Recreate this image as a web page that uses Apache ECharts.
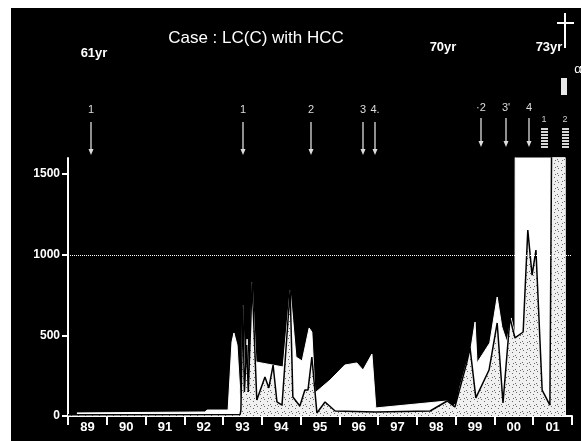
<!DOCTYPE html>
<html>
<head>
<meta charset="utf-8">
<script src="https://cdn.jsdelivr.net/npm/echarts@6/dist/echarts.min.js"></script>
<style>
  html, body { margin: 0; padding: 0; background: #fff; }
  #frame { position: absolute; left: 11px; top: 8px; width: 570px; height: 433px; background: #000; }
  #main { position: absolute; left: 0; top: 0; width: 581px; height: 441px; }
</style>
</head>
<body>
<div id="frame"></div>
<div id="main"></div>
<script>
// x axis categories (fiscal years)
const yearLabels = ['89', '90', '91', '92', '93', '94', '95', '96', '97', '98', '99', '00', '01'];
const yTicks = [0, 500, 1000, 1500];

// white filled series (values above 1600 run off the top of the chart)
const areaTimes = [1989.23, 1992.53, 1992.59, 1993.13, 1993.23, 1993.28, 1993.36, 1993.41, 1993.46, 1993.51,
  1993.57, 1993.62, 1993.67, 1993.75, 1993.85, 1994.55, 1994.73, 1994.88, 1995.04, 1995.22,
  1995.29, 1995.37, 1995.76, 1996.14, 1996.45, 1996.61, 1996.84, 1996.94, 1998.78, 1998.93,
  1999.03, 1999.11, 1999.29, 1999.37, 1999.50, 1999.55, 1999.88, 2000.07, 2000.19, 2000.32,
  2000.43, 2000.53, 2000.54, 2001.82, 2001.83];
const areaValues = [19, 25, 37, 37, 459, 515, 440, 428, 37, 688,
  161, 477, 149, 831, 335, 304, 781, 366, 341, 546,
  521, 143, 223, 316, 329, 285, 384, 50, 93, 62,
  81, 180, 335, 378, 583, 329, 453, 738, 552, 459,
  608, 502, 3000, 3000, 0];

// black line series with stippled fill
const lineTimes = [1989.0, 1993.44, 1993.46, 1993.51, 1993.55, 1993.61, 1993.65, 1993.75, 1993.87, 1994.08,
  1994.18, 1994.29, 1994.39, 1994.52, 1994.73, 1994.80, 1994.98, 1995.11, 1995.19, 1995.29,
  1995.42, 1995.63, 1995.89, 1996.94, 1998.34, 1998.78, 1998.98, 1999.29, 1999.37, 1999.52,
  1999.86, 2000.07, 2000.22, 2000.40, 2000.53, 2000.74, 2000.86, 2000.97, 2001.07, 2001.23,
  2001.43, 2001.51, 2001.82];
const lineValues = [8, 10, 37, 688, 149, 440, 149, 831, 99, 242,
  174, 316, 87, 68, 781, 118, 62, 161, 161, 366,
  19, 87, 31, 25, 31, 93, 56, 335, 422, 112,
  285, 577, 81, 608, 484, 521, 1153, 874, 1029, 161,
  68, 3000, 3000];

// treatment arrows and hatched markers along the top
const eventTimes = [1989.59, 1993.51, 1995.27, 1996.61, 1996.92, 1999.65, 2000.30, 2000.89];
const eventLabels = ['1', '1', '2', '3', '4.', '\u00b72', '3\'', '4'];
const hatchTimes = [2001.28, 2001.82];
const hatchLabels = ['1', '2'];

const FONT = '"Liberation Sans", Arial, sans-serif';

function makeStipple() {
  const c = document.createElement('canvas');
  c.width = 7; c.height = 7;
  const g = c.getContext('2d');
  g.fillStyle = '#f0f0f0';
  g.fillRect(0, 0, 7, 7);
  g.fillStyle = '#6a6a6a';
  g.fillRect(1, 2, 1, 1);
  g.fillRect(4, 5, 1, 1);
  g.fillRect(5, 0, 1, 1);
  g.fillRect(2, 6, 1, 1);
  return c;
}

const chart = echarts.init(document.getElementById('main'));

const option = {
  animation: false,
  grid: { left: 68, right: 9, top: 158, bottom: 25 },
  xAxis: [
    { type: 'value', min: 1989, max: 2002, show: false, position: 'bottom' },
    {
      type: 'category', data: yearLabels, position: 'bottom', boundaryGap: true,
      axisLine: { lineStyle: { color: '#fff', width: 2 } },
      axisTick: { show: true, length: 9, lineStyle: { color: '#fff', width: 2 } },
      axisLabel: { color: '#fff', fontWeight: 'bold', fontSize: 13, fontFamily: FONT, margin: 5 }
    }
  ],
  yAxis: {
    type: 'value', min: 0, max: 1600, interval: 500,
    axisLine: { show: true, lineStyle: { color: '#fff', width: 2 } },
    axisTick: { show: true, length: 6, lineStyle: { color: '#fff', width: 2 } },
    axisLabel: {
      color: '#fff', fontWeight: 'bold', fontSize: 12, fontFamily: FONT, margin: 8,
      showMaxLabel: false,
      formatter: v => (yTicks.indexOf(v) >= 0 ? String(v) : '')
    },
    splitLine: { show: false }
  },
  series: [
    {
      type: 'line', xAxisIndex: 0, z: 2,
      data: areaTimes.map((t, i) => [t, areaValues[i]]),
      symbol: 'none',
      lineStyle: { color: '#fff', width: 1 },
      areaStyle: { color: '#fff', opacity: 1 },
      markLine: {
        silent: true, symbol: 'none', label: { show: false },
        lineStyle: { color: '#fff', type: 'dotted', width: 1 },
        data: [{ yAxis: 1000 }]
      }
    },
    {
      type: 'line', xAxisIndex: 0, z: 3,
      data: lineTimes.map((t, i) => [t, lineValues[i]]),
      symbol: 'none',
      lineStyle: { color: '#000', width: 1.5 },
      areaStyle: { color: { image: makeStipple(), repeat: 'repeat' }, opacity: 1 }
    }
  ]
};
chart.setOption(option);

// annotations on top of the plot
const g = [];
function txt(text, x, y, size, weight, color) {
  g.push({
    type: 'text', silent: true,
    style: {
      text: text, x: x, y: y, fill: color || '#fff',
      font: (weight || 'normal') + ' ' + size + 'px ' + FONT,
      textAlign: 'center', textVerticalAlign: 'middle', align: 'center', verticalAlign: 'middle'
    }
  });
}
function seg(x1, y1, x2, y2, w, color) {
  g.push({ type: 'line', silent: true, shape: { x1: x1, y1: y1, x2: x2, y2: y2 },
    style: { stroke: color || '#fff', lineWidth: w || 1 } });
}

txt('Case : LC(C) with HCC', 256, 38, 17, 'normal');
txt('61yr', 94, 53, 13, 'bold');
txt('70yr', 443, 47, 13, 'bold');
txt('73yr', 549, 47, 13, 'bold');
// cross (death)
seg(565, 13, 565, 48, 2);
seg(557, 23, 574, 23, 2);
txt('\u03b1', 578, 69, 13, 'normal');
g.push({ type: 'rect', silent: true, shape: { x: 561, y: 78, width: 6, height: 17 }, style: { fill: '#e8e8e8' } });

eventTimes.forEach((t, i) => {
  const x = Math.round(chart.convertToPixel({ xAxisIndex: 0 }, t));
  const early = t < 1997;
  const top = early ? 122 : 118;
  const bot = early ? 155 : 147;
  txt(eventLabels[i], x, early ? 110 : 108, 11, 'normal', '#ddd');
  seg(x, top, x, bot - 4, 1.3, '#ddd');
  g.push({ type: 'polygon', silent: true, shape: { points: [[x - 2.5, bot - 6], [x + 2.5, bot - 6], [x, bot]] },
    style: { fill: '#ddd' } });
});

hatchTimes.forEach((t, i) => {
  const x = Math.round(chart.convertToPixel({ xAxisIndex: 0 }, t));
  txt(hatchLabels[i], x, 120, 9, 'normal', '#ccc');
  for (let y = 128; y < 147; y += 3) {
    g.push({ type: 'rect', silent: true, shape: { x: x - 3, y: y, width: 7, height: 2 }, style: { fill: '#d8d8d8' } });
  }
});

chart.setOption({ graphic: g });
</script>
</body>
</html>
